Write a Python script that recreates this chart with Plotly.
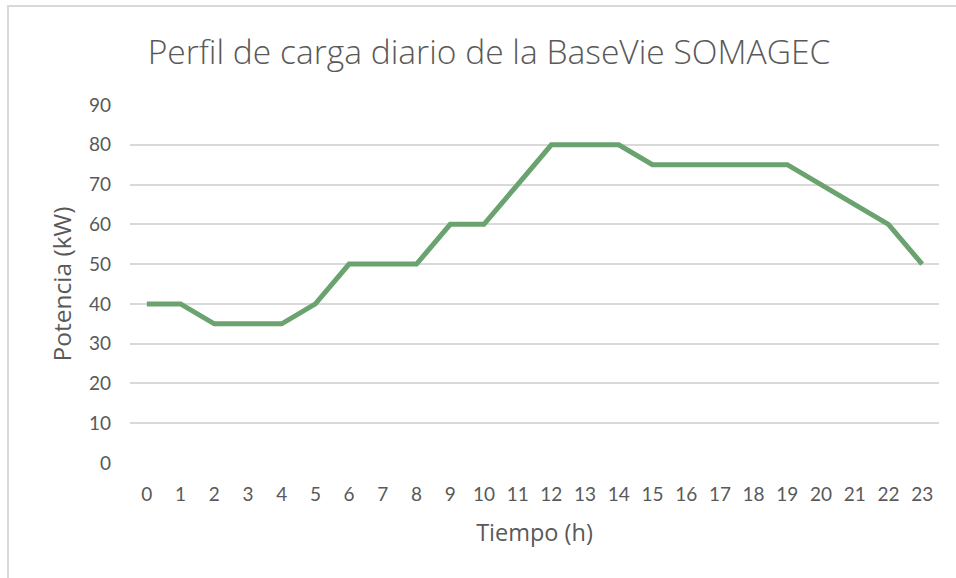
import plotly.graph_objects as go

hours = list(range(24))
hour_labels = [str(h) for h in hours]
potencia_kw = [40, 40, 35, 35, 35, 40, 50, 50, 50, 60, 60, 70, 80, 80, 80,
               75, 75, 75, 75, 75, 70, 65, 60, 50]
y_ticks = [0, 10, 20, 30, 40, 50, 60, 70, 80, 90]

title_text = "Perfil de carga diario de la BaseVie SOMAGEC"
x_title = "Tiempo (h)"
y_title = "Potencia (kW)"

TICK_FONT = "Lato, 'Open Sans', sans-serif"
TITLE_FONT = "'Open Sans', Lato, sans-serif"
GRAY = "#595959"

# body margin removed via post_script, so figure coords == screen coords
W, H = 956, 578
L, R, T, B = 130, 17, 105, 115
PW = W - L - R
PH = H - T - B

def px(x):
    return (x - L) / PW

def py(y):
    return (H - B - y) / PH

fig = go.Figure()
fig.add_trace(go.Scatter(
    x=hours, y=potencia_kw, mode="lines",
    line=dict(color="#6aa36f", width=5),
    hoverinfo="x+y", showlegend=False,
))

fig.update_layout(
    width=W, height=H,
    margin=dict(l=L, r=R, t=T, b=B),
    paper_bgcolor="white", plot_bgcolor="white",
    font=dict(family=TICK_FONT, color=GRAY, size=19),
    title=dict(text=title_text, x=489 / W, xanchor="center",
               y=1 - 52 / H, yanchor="middle", yref="container",
               font=dict(family=TITLE_FONT, size=33.6, color=GRAY, weight=300)),
    xaxis=dict(
        range=[-0.5, 23.5], tickmode="array", tickvals=hours, ticktext=hour_labels,
        showgrid=False, zeroline=False, showline=False, ticks="",
        ticklabelstandoff=18,
        tickfont=dict(size=19, color=GRAY),
        title=dict(text=x_title, standoff=20,
                   font=dict(family=TITLE_FONT, size=23.5, color=GRAY)),
        fixedrange=True,
    ),
    yaxis=dict(
        range=[0, 90], tickmode="array", tickvals=y_ticks,
        showgrid=True, gridcolor="#d9d9d9", gridwidth=1.5,
        zeroline=False, showline=False, ticks="",
        ticklabelstandoff=18,
        tickfont=dict(size=19, color=GRAY),
        title=dict(text=y_title, standoff=10,
                   font=dict(family=TITLE_FONT, size=24.5, color=GRAY)),
        fixedrange=True,
    ),
    shapes=[
        dict(type="line", xref="paper", yref="paper",
             x0=px(8), x1=px(8), y0=py(5), y1=py(H + 20),
             line=dict(color="#d9d9d9", width=2)),
        dict(type="line", xref="paper", yref="paper",
             x0=px(7), x1=px(W + 20), y0=py(6), y1=py(6),
             line=dict(color="#d9d9d9", width=2)),
    ],
)

fig.write_html("out.html",
               config={"displayModeBar": False},
               post_script="document.body.style.margin='0';document.body.style.padding='0';")
